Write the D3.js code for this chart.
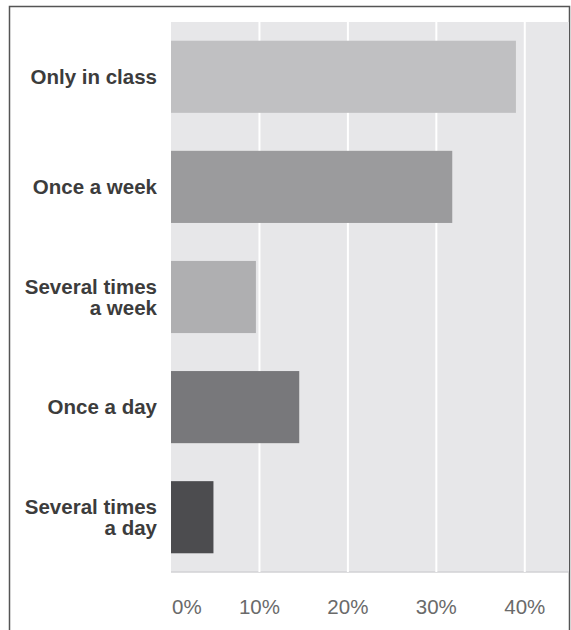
<!DOCTYPE html>
<html>
<head>
<meta charset="utf-8">
<script src="https://cdn.jsdelivr.net/npm/d3@7"></script>
<style>
  html, body { margin: 0; padding: 0; background: #fff; }
  svg { display: block; }
</style>
</head>
<body>
<svg id="chart" width="571" height="630"></svg>
<script>
const categories = [
  ["Only in class"],
  ["Once a week"],
  ["Several times", "a week"],
  ["Once a day"],
  ["Several times", "a day"]
];
const values = [39.0, 31.8, 9.6, 14.5, 4.8];
const tickValues = [0, 10, 20, 30, 40];
const tickLabels = ["0%", "10%", "20%", "30%", "40%"];
const barColors = ["#c0c0c2", "#9b9b9d", "#afafb1", "#78787b", "#4c4c4f"];

const svg = d3.select("#chart");
const pLeft = 171, pRight = 569, pTop = 22, pBottom = 572;

const keys = categories.map(c => c.join(" "));
const x = d3.scaleLinear().domain([0, 45]).range([pLeft, pRight]);
const y = d3.scaleBand().domain(keys).range([pTop, pBottom])
  .paddingInner(0.345).paddingOuter(0.17);

// frame
svg.append("path")
  .attr("d", `M9.5,630 V6.5 H569.5 V630`)
  .attr("fill", "none").attr("stroke", "#555555").attr("stroke-width", 1.5);

// plot background
svg.append("rect")
  .attr("x", pLeft).attr("y", pTop)
  .attr("width", pRight - pLeft).attr("height", pBottom - pTop)
  .attr("fill", "#e7e7e9");
svg.append("line")
  .attr("x1", pLeft).attr("x2", pRight).attr("y1", pBottom).attr("y2", pBottom)
  .attr("stroke", "#d2d2d4").attr("stroke-width", 1.5);

// gridlines
svg.append("g").selectAll("line")
  .data(tickValues.filter(d => d > 0))
  .join("line")
  .attr("x1", d => x(d)).attr("x2", d => x(d))
  .attr("y1", pTop).attr("y2", pBottom)
  .attr("stroke", "#ffffff").attr("stroke-width", 2);

// bars
svg.append("g").selectAll("rect")
  .data(values)
  .join("rect")
  .attr("x", x(0))
  .attr("y", (d, i) => y(keys[i]))
  .attr("width", d => x(d) - x(0))
  .attr("height", y.bandwidth())
  .attr("fill", (d, i) => barColors[i]);

// category labels
const lineH = 21;
const labG = svg.append("g")
  .attr("font-family", "Liberation Sans, Arial, sans-serif")
  .attr("font-weight", "bold")
  .attr("font-size", 20.5)
  .attr("fill", "#3c3c3c")
  .attr("text-anchor", "end");
categories.forEach((lines, i) => {
  const cy = y(keys[i]) + y.bandwidth() / 2;
  const t = labG.append("text").attr("x", 157);
  const n = lines.length;
  lines.forEach((ln, j) => {
    t.append("tspan")
      .attr("x", 157)
      .attr("y", cy + (j - (n - 1) / 2) * lineH + 7)
      .text(ln);
  });
});

// x tick labels
svg.append("g")
  .attr("font-family", "Liberation Sans, Arial, sans-serif")
  .attr("font-size", 20.5)
  .attr("fill", "#6a6a6a")
  .selectAll("text")
  .data(tickValues)
  .join("text")
  .attr("x", (d, i) => i === 0 ? x(d) + 1 : x(d))
  .attr("y", 614)
  .attr("text-anchor", (d, i) => i === 0 ? "start" : "middle")
  .text((d, i) => tickLabels[i]);
</script>
</body>
</html>
